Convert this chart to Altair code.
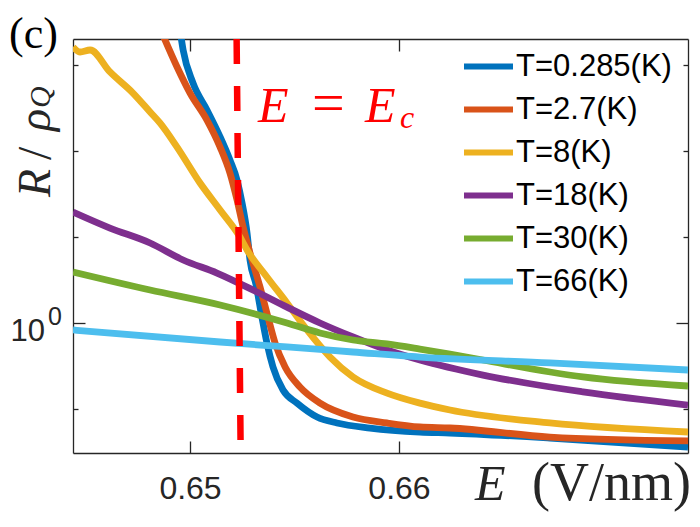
import altair as alt
import pandas as pd

series = ["T=0.285(K)", "T=2.7(K)", "T=8(K)", "T=18(K)", "T=30(K)", "T=66(K)"]
colors = ["#0072BD", "#D95319", "#EDB120", "#7E2F8E", "#77AC30", "#4DBEEE"]

E_0285 = [0.64952, 0.64967, 0.65014, 0.65081, 0.65144, 0.65191, 0.65225, 0.65249, 0.65273, 0.65287,
          0.65316, 0.65344, 0.65368, 0.65397, 0.65445, 0.65512, 0.65608, 0.65703, 0.65861, 0.66100,
          0.66244, 0.66722, 0.67383]
R_0285 = [2553, 1494, 618, 300, 146, 78.6, 46.0, 24.9, 11.1, 5.40,
          2.77, 1.17, 0.585, 0.308, 0.166, 0.117, 0.0807, 0.0688, 0.0601, 0.0540,
          0.0526, 0.0460, 0.0361]

E_27 = [0.64866, 0.64938, 0.65000, 0.65081, 0.65144, 0.65191, 0.65225, 0.65254, 0.65287, 0.65335,
        0.65373, 0.65407, 0.65455, 0.65526, 0.65622, 0.65780, 0.65943, 0.66100, 0.66244, 0.66722,
        0.67383]
R_27 = [2355, 948, 472, 229, 111, 55.5, 26.9, 13.1, 6.51, 2.62,
        1.17, 0.585, 0.308, 0.180, 0.117, 0.0807, 0.0688, 0.0618, 0.0601, 0.0472,
        0.0425]

E_8 = [0.64440, 0.64474, 0.64522, 0.64617, 0.64727, 0.64809, 0.64856, 0.64938, 0.65048, 0.65144,
       0.65239, 0.65273, 0.65368, 0.65464, 0.65560, 0.65670, 0.65780, 0.65943, 0.66100, 0.66244,
       0.66722, 0.67383]
R_8 = [1619, 1416, 1494, 829, 472, 284, 212, 111, 42.4, 20.6,
       10.0, 7.06, 3.43, 1.71, 0.830, 0.402, 0.236, 0.153, 0.117, 0.0973,
       0.0688, 0.0540]

E_18 = [0.64440, 0.64617, 0.64809, 0.64967, 0.65129, 0.65301, 0.65464, 0.65622, 0.65780, 0.65943,
        0.66100, 0.66402, 0.66880, 0.67383]
R_18 = [19.5, 12.7, 8.51, 5.40, 3.81, 2.42, 1.53, 1.00, 0.688, 0.485,
        0.371, 0.248, 0.158, 0.111]

E_30 = [0.64440, 0.64809, 0.65144, 0.65464, 0.65622, 0.65780, 0.65943, 0.66100, 0.66244, 0.66402,
        0.66880, 0.67383]
R_30 = [3.92, 2.42, 1.62, 1.00, 0.765, 0.634, 0.570, 0.498, 0.436, 0.371, 0.236, 0.185]

E_66 = [0.64440, 0.65144, 0.65464, 0.65780, 0.66100, 0.66722, 0.67383]
R_66 = [0.830, 0.601, 0.526, 0.460, 0.402, 0.343, 0.284]

Ec_line_E = [0.65223, 0.65242]
Ec_line_R = [2005, 0.0381]

x_ticks = [0.65, 0.66]
y_ticks = [0.1, 1, 10, 100, 1000]
x_domain = [0.6444, 0.67383]
y_domain = [0.03078, 2005]

rows = []
for name, es, rs in zip(series, [E_0285, E_27, E_8, E_18, E_30, E_66],
                        [R_0285, R_27, R_8, R_18, R_30, R_66]):
    for e, r in zip(es, rs):
        rows.append({"E": e, "R": r, "series": name})
df = pd.DataFrame(rows)
df_ec = pd.DataFrame({"E1": [Ec_line_E[0]], "E2": [Ec_line_E[1]],
                      "R1": [Ec_line_R[0]], "R2": [Ec_line_R[1]]})

W, H = 615, 414
AX = "#262626"
xs = alt.Scale(domain=x_domain, nice=False, zero=False)
ys = alt.Scale(type="log", domain=y_domain, nice=False)

main_x = alt.Axis(orient="bottom", values=x_ticks, ticks=False, tickSize=0, grid=False,
                  labelFont="Liberation Sans", labelFontSize=32, labelColor=AX,
                  labelBaseline="alphabetic", labelPadding=45, format=".2f",
                  domainColor=AX, domainWidth=1.3, title=None)
main_y = alt.Axis(orient="left", values=y_ticks, ticks=False, labels=False, grid=False,
                  domainColor=AX, domainWidth=1.3, title=None)

lines = alt.Chart(df).mark_line(strokeWidth=6.8, clip=True, interpolate="monotone").encode(
    x=alt.X("E:Q", scale=xs, axis=main_x),
    y=alt.Y("R:Q", scale=ys, axis=main_y),
    color=alt.Color("series:N", sort=series,
                    scale=alt.Scale(domain=series, range=colors),
                    legend=alt.Legend(orient="none", legendX=388, legendY=0, title=None,
                                      symbolType="stroke", symbolSize=2401,
                                      symbolStrokeWidth=6, labelFont="Liberation Sans",
                                      labelFontSize=31, labelColor="black", labelOffset=0,
                                      rowPadding=0, padding=0, labelLimit=400)),
)

ysize = {"condition": {"test": "datum.value == 1", "value": 12}, "value": 5}

ticksA = alt.Chart(df).mark_point(opacity=0).encode(
    x=alt.X("E:Q", scale=xs, axis=alt.Axis(orient="top", offset=-H, values=x_ticks, labels=False,
                                          domain=False, grid=False, tickSize=12, tickColor=AX,
                                          tickWidth=1.3, title=None)),
    y=alt.Y("R:Q", scale=ys, axis=alt.Axis(orient="right", offset=-W, values=y_ticks, labels=False,
                                          domain=False, grid=False, tickSize=ysize, tickColor=AX,
                                          tickWidth=1.3, title=None)),
)
ticksB = alt.Chart(df).mark_point(opacity=0).encode(
    x=alt.X("E:Q", scale=xs, axis=alt.Axis(orient="bottom", offset=-H, values=x_ticks, labels=False,
                                          domain=True, domainColor=AX, domainWidth=1.3, grid=False,
                                          tickSize=12, tickColor=AX, tickWidth=1.3, title=None)),
    y=alt.Y("R:Q", scale=ys, axis=alt.Axis(orient="left", offset=-W, values=y_ticks, labels=False,
                                          domain=True, domainColor=AX, domainWidth=1.3, grid=False,
                                          tickSize=ysize, tickColor=AX, tickWidth=1.3, title=None)),
)

ec = alt.Chart(df_ec).mark_rule(color="#FF0000", strokeWidth=6.5, strokeDash=[25, 22]).encode(
    x=alt.X("E1:Q", scale=xs, axis=None), x2="E2:Q",
    y=alt.Y("R1:Q", scale=ys, axis=None), y2="R2:Q",
)


def txt(text, x, y, size, font="Liberation Serif", style="normal", color="black",
        align="left", angle=0):
    return alt.Chart(pd.DataFrame({"t": [text]})).mark_text(
        font=font, fontSize=size, fontStyle=style, color=color, align=align,
        baseline="alphabetic", angle=angle,
    ).encode(text="t:N", x=alt.value(x), y=alt.value(y))


texts = [
    txt("(c)", -64, 9, 44),
    txt("10", -28, 302, 31, font="Liberation Sans", color=AX, align="right"),
    txt("0", -25, 286, 25, font="Liberation Sans", color=AX),
    txt("E", 402, 461, 50, style="italic", color=AX),
    txt("(V/nm)", 459, 461, 54, color=AX),
    txt("E", 185, 83, 50, style="italic", color="#FF0000"),
    txt("=", 239, 83, 58, color="#FF0000"),
    txt("E", 292, 83, 50, style="italic", color="#FF0000"),
    txt("c", 327, 89, 32, style="italic", color="#FF0000"),
    txt("R", -23, 158, 46, style="italic", color=AX, angle=270),
    txt("/", -22, 121, 48, color=AX, angle=270),
    txt("ρ", -23, 92, 46, style="italic", color=AX, angle=270),
    txt("Q", -23, 69, 30, style="italic", color=AX, angle=270),
]

chart = alt.layer(lines, ticksA, ticksB, ec, *texts).resolve_axis(
    x="independent", y="independent"
).properties(
    width=W, height=H,
    autosize=alt.AutoSizeParams(type="none"),
    padding={"left": 65, "top": 31, "right": 4, "bottom": 66},
    background="white",
).configure_view(stroke=None)

chart.save("out.html", embed_options={"renderer": "svg", "actions": False})
